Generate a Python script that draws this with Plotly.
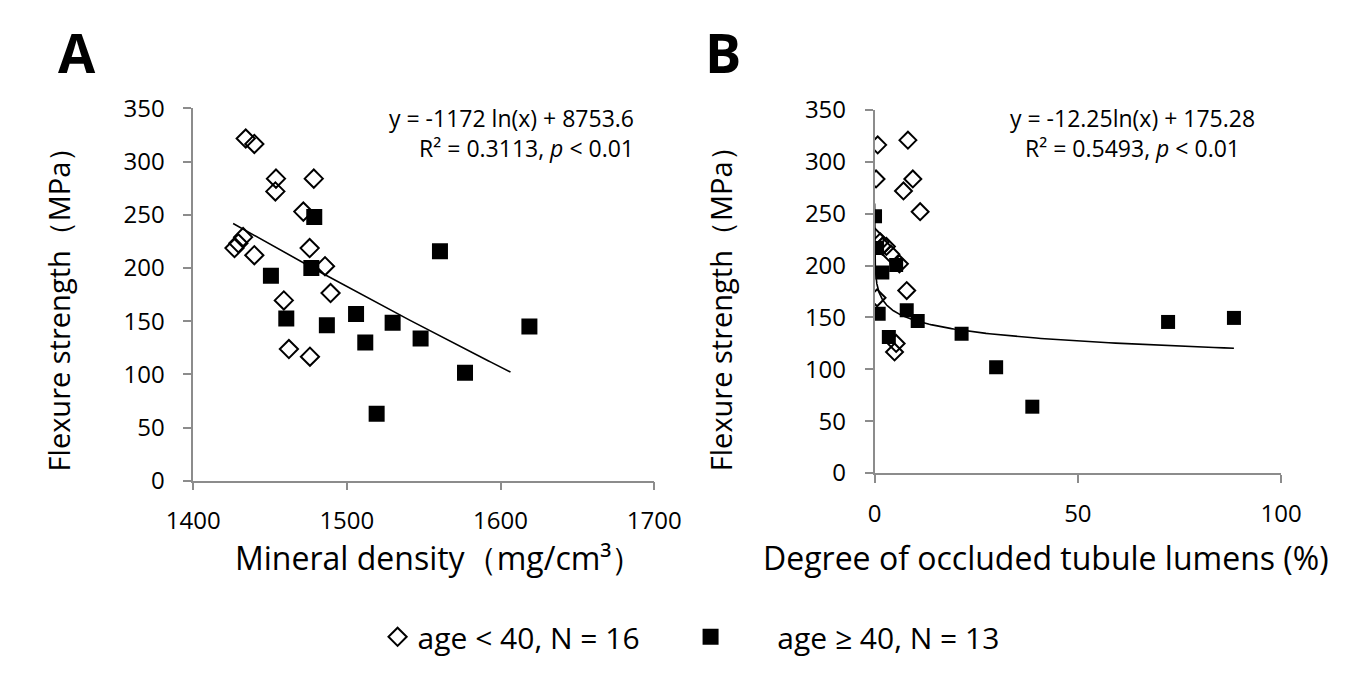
import numpy as np
import plotly.graph_objects as go

# ---------------- data ----------------
# Panel A: mineral density (mg/cm3) vs flexure strength (MPa)
a_young_x = [1434.2, 1439.8, 1453.9, 1453.5, 1478.5, 1471.7, 1475.8, 1439.8,
             1485.8, 1489.4, 1459.0, 1462.3, 1476.0, 1426.9, 1429.4, 1432.5]
a_young_y = [321.7, 316.6, 284.0, 272.0, 284.0, 253.0, 218.7, 212.0,
             201.7, 176.4, 169.5, 123.8, 116.6, 218.7, 223.2, 229.0]
a_old_x = [1478.8, 1476.9, 1450.6, 1560.6, 1460.6, 1487.0, 1506.0,
           1529.8, 1512.0, 1519.4, 1548.0, 1576.9, 1618.8]
a_old_y = [248.0, 200.0, 192.7, 215.8, 152.5, 146.2, 156.7,
           148.6, 130.0, 63.0, 133.7, 101.4, 145.0]

# Panel B: degree of occluded tubule lumens (%) vs flexure strength (MPa)
b_young_x = [0.76, 8.2, 0.35, 9.4, 7.1, 11.2, 0.1, 1.4,
             1.9, 2.9, 4.0, 6.1, 7.9, 0.6, 5.3, 4.9]
b_young_y = [316.4, 321.0, 283.6, 283.6, 272.0, 252.0, 227.6, 223.0,
             218.7, 218.5, 211.0, 201.7, 176.0, 169.0, 125.0, 116.8]
b_old_x = [0.1, 0.6, 5.3, 1.9, 1.0, 7.9, 10.6, 3.5, 21.4, 29.9, 38.8, 72.2, 88.4]
b_old_y = [247.6, 217.0, 200.7, 193.4, 153.6, 157.0, 146.6, 131.3,
           134.3, 102.0, 64.0, 145.7, 149.6]

# fitted logarithmic trend lines (coefficients shown on the chart)
a_fit_slope, a_fit_const = -1172.0, 8753.6
a_fit_range = [1426.0, 1606.5]
b_fit_slope, b_fit_const = -12.25, 175.28
b_fit_range = [0.001, 88.4]

y_ticks = [0, 50, 100, 150, 200, 250, 300, 350]
a_x_ticks = [1400, 1500, 1600, 1700]
b_x_ticks = [0, 50, 100]

NB = "\u00a0"
legend_names = ["age < 40, N = 16", NB * 6 + "age \u2265 40, N = 13"]

# ---------------- figure ----------------
W, H = 1366, 688
FONT = "Open Sans"
AXIS_GRAY = "#8c8c8c"

def px_x(p):
    return p / W

def px_y(p):
    return 1 - p / H

ax = np.linspace(a_fit_range[0], a_fit_range[1], 100)
ay = a_fit_slope * np.log(ax) + a_fit_const
bx = np.geomspace(b_fit_range[0], b_fit_range[1], 400)
by = b_fit_slope * np.log(bx) + b_fit_const

fig = go.Figure()

fig.add_trace(go.Scatter(x=ax, y=ay, mode="lines", line=dict(color="black", width=1.6),
                         showlegend=False, hoverinfo="skip", xaxis="x", yaxis="y"))
fig.add_trace(go.Scatter(x=a_young_x, y=a_young_y, mode="markers", name=legend_names[0],
                         legendgroup="young",
                         marker=dict(symbol="diamond-open", size=14, color="black",
                                     line=dict(width=2, color="black")),
                         xaxis="x", yaxis="y"))
fig.add_trace(go.Scatter(x=a_old_x, y=a_old_y, mode="markers", name=legend_names[1],
                         legendgroup="old",
                         marker=dict(symbol="square", size=16, color="black"),
                         xaxis="x", yaxis="y"))

fig.add_trace(go.Scatter(x=bx, y=by, mode="lines", line=dict(color="black", width=1.6),
                         showlegend=False, hoverinfo="skip", xaxis="x2", yaxis="y2"))
fig.add_trace(go.Scatter(x=b_young_x, y=b_young_y, mode="markers", name=legend_names[0],
                         legendgroup="young", showlegend=False,
                         marker=dict(symbol="diamond-open", size=13, color="black",
                                     line=dict(width=2, color="black")),
                         xaxis="x2", yaxis="y2"))
fig.add_trace(go.Scatter(x=b_old_x, y=b_old_y, mode="markers", name=legend_names[1],
                         legendgroup="old", showlegend=False,
                         marker=dict(symbol="square", size=14, color="black"),
                         xaxis="x2", yaxis="y2"))

axis_common = dict(showline=True, linecolor=AXIS_GRAY, linewidth=1.5, showgrid=False,
                   zeroline=False, ticks="outside", ticklen=8, tickwidth=1.5,
                   tickcolor=AXIS_GRAY, tickfont=dict(family=FONT, size=24, color="black"),
                   mirror=False)

fig.update_layout(
    width=W, height=H,
    margin=dict(l=0, r=0, t=0, b=0),
    paper_bgcolor="white", plot_bgcolor="white",
    font=dict(family=FONT, color="black"),
    xaxis=dict(domain=[px_x(173), px_x(653)], range=[1400, 1700], tickvals=a_x_ticks,
               anchor="y", ticklabelstandoff=10, **axis_common),
    yaxis=dict(domain=[px_y(486), px_y(95)], range=[0, 350], tickvals=y_ticks,
               anchor="x", ticklabelstandoff=14, **axis_common),
    xaxis2=dict(domain=[px_x(882.5), px_x(1305.7)], range=[0, 100], tickvals=b_x_ticks,
                anchor="y2", ticklabelstandoff=10, **axis_common),
    yaxis2=dict(domain=[px_y(478), px_y(96.7)], range=[0, 350], tickvals=y_ticks,
                anchor="x2", ticklabelstandoff=14, **axis_common),
    legend=dict(orientation="h", x=px_x(365), y=px_y(650), xanchor="left", yanchor="middle",
                entrywidth=268, entrywidthmode="pixels",
                font=dict(family=FONT, size=30, color="black"),
                bgcolor="rgba(0,0,0,0)"),
)

ann = []
def add_text(text, x, y, size, angle=0, bold=False, xanchor="center", align="center"):
    ann.append(dict(text=("<b>%s</b>" % text) if bold else text, x=px_x(x), y=px_y(y),
                    xref="paper", yref="paper", showarrow=False, xanchor=xanchor,
                    yanchor="middle", textangle=angle, align=align,
                    font=dict(family=FONT, size=size, color="black")))

add_text("A", 52, 36, 54, bold=True)
add_text("B", 725, 36, 54, bold=True)
add_text("y = -1172 ln(x) + 8753.6<br>R\u00b2 = 0.3113, <i>p</i> &lt; 0.01",
         634, 121, 23, xanchor="right", align="right")
add_text("y = -12.25ln(x) + 175.28<br>R\u00b2 = 0.5493, <i>p</i> &lt; 0.01",
         1151, 121, 23)
add_text("Flexure strength\uff08MPa\uff09", 33, 298, 29, angle=-90)
add_text("Flexure strength\uff08MPa\uff09", 722, 298, 29, angle=-90)
add_text("Mineral density\uff08mg/cm\u00b3\uff09", 429, 567, 32)
add_text("Degree of occluded tubule lumens (%)", 1358, 567, 32, xanchor="right")

fig.update_layout(annotations=ann)

fig.write_html("out.html")
